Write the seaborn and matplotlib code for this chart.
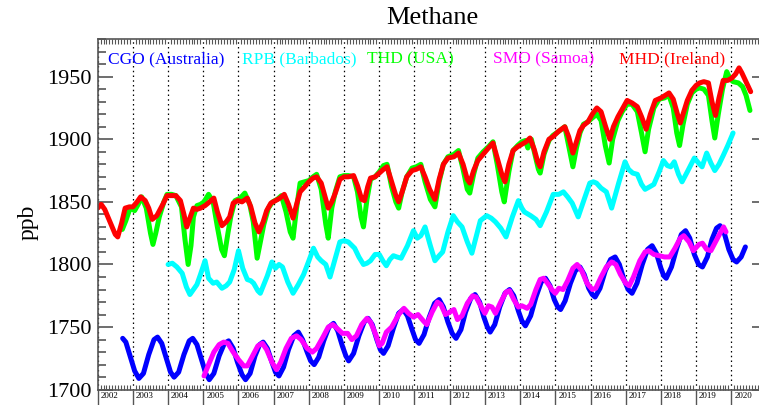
import matplotlib
matplotlib.use("Agg")
import matplotlib.pyplot as plt
from matplotlib.ticker import MultipleLocator, FixedLocator
from matplotlib.transforms import ScaledTranslation
import seaborn as sns

# ---- CGO (Cape Grim, Australia) ----
cgo_year = [2002.71, 2002.80, 2002.92, 2003.05, 2003.17, 2003.30, 2003.45, 2003.60, 2003.70, 2003.82,
            2003.95, 2004.07, 2004.17, 2004.30, 2004.45, 2004.60, 2004.70, 2004.82, 2004.95, 2005.07,
            2005.17, 2005.30, 2005.45, 2005.60, 2005.72, 2005.85, 2005.97, 2006.10, 2006.20, 2006.33,
            2006.47, 2006.60, 2006.70, 2006.82, 2006.95, 2007.05, 2007.15, 2007.28, 2007.42, 2007.57,
            2007.70, 2007.82, 2007.95, 2008.05, 2008.15, 2008.28, 2008.42, 2008.57, 2008.70, 2008.82,
            2008.95, 2009.05, 2009.13, 2009.27, 2009.42, 2009.57, 2009.68, 2009.80, 2009.93, 2010.03,
            2010.12, 2010.25, 2010.40, 2010.55, 2010.68, 2010.80, 2010.93, 2011.03, 2011.13, 2011.27,
            2011.42, 2011.57, 2011.70, 2011.82, 2011.95, 2012.07, 2012.18, 2012.32, 2012.45, 2012.60,
            2012.72, 2012.85, 2012.97, 2013.07, 2013.15, 2013.28, 2013.42, 2013.57, 2013.70, 2013.82,
            2013.95, 2014.05, 2014.15, 2014.30, 2014.45, 2014.60, 2014.72, 2014.85, 2014.97, 2015.07,
            2015.15, 2015.28, 2015.43, 2015.57, 2015.70, 2015.82, 2015.95, 2016.05, 2016.13, 2016.27,
            2016.42, 2016.57, 2016.70, 2016.82, 2016.95, 2017.07, 2017.18, 2017.32, 2017.47, 2017.62,
            2017.75, 2017.87, 2018.00, 2018.08, 2018.15, 2018.30, 2018.45, 2018.58, 2018.70, 2018.82,
            2018.95, 2019.07, 2019.18, 2019.32, 2019.45, 2019.58, 2019.68, 2019.80, 2019.93, 2020.05,
            2020.15, 2020.28, 2020.40]
cgo_ppb = [1741, 1738, 1727, 1715, 1709, 1713, 1728, 1740, 1742, 1737,
           1725, 1714, 1710, 1714, 1728, 1739, 1741, 1736, 1724, 1713,
           1708, 1713, 1727, 1737, 1739, 1733, 1722, 1712, 1708, 1713,
           1727, 1736, 1738, 1733, 1722, 1714, 1711, 1718, 1732, 1743,
           1746, 1740, 1730, 1723, 1720, 1726, 1739, 1750, 1753, 1747,
           1735, 1727, 1723, 1729, 1743, 1754, 1757, 1752, 1740, 1732,
           1729, 1735, 1749, 1761, 1764, 1759, 1748, 1740, 1737, 1744,
           1758, 1769, 1772, 1766, 1754, 1745, 1741, 1748, 1762, 1773,
           1776, 1770, 1758, 1750, 1746, 1752, 1766, 1777, 1780, 1775,
           1763, 1755, 1751, 1759, 1774, 1786, 1789, 1783, 1772, 1766,
           1764, 1771, 1785, 1795, 1798, 1792, 1781, 1776, 1774, 1781,
           1795, 1804, 1806, 1800, 1788, 1780, 1777, 1785, 1800, 1812,
           1815, 1809, 1797, 1791, 1789, 1798, 1813, 1824, 1827, 1821,
           1808, 1800, 1798, 1806, 1820, 1829, 1831, 1825, 1812, 1804,
           1802, 1806, 1814]

# ---- RPB (Ragged Point, Barbados) ----
rpb_year = [2004.00, 2004.12, 2004.25, 2004.40, 2004.52, 2004.62, 2004.72, 2004.82, 2004.92, 2005.05,
            2005.15, 2005.28, 2005.38, 2005.53, 2005.65, 2005.75, 2005.88, 2006.00, 2006.12, 2006.25,
            2006.35, 2006.43, 2006.55, 2006.62, 2006.72, 2006.82, 2006.95, 2007.05, 2007.15, 2007.25,
            2007.40, 2007.55, 2007.70, 2007.85, 2008.00, 2008.13, 2008.25, 2008.35, 2008.48, 2008.60,
            2008.75, 2008.88, 2009.00, 2009.12, 2009.30, 2009.42, 2009.55, 2009.65, 2009.75, 2009.88,
            2010.00, 2010.10, 2010.20, 2010.30, 2010.40, 2010.50, 2010.62, 2010.80, 2010.97, 2011.08,
            2011.18, 2011.30, 2011.45, 2011.58, 2011.70, 2011.80, 2011.95, 2012.10, 2012.22, 2012.35,
            2012.50, 2012.63, 2012.75, 2012.87, 2013.05, 2013.18, 2013.30, 2013.45, 2013.60, 2013.78,
            2013.95, 2014.05, 2014.12, 2014.30, 2014.45, 2014.57, 2014.75, 2014.94, 2015.10, 2015.23,
            2015.35, 2015.48, 2015.65, 2015.82, 2015.98, 2016.08, 2016.17, 2016.30, 2016.45, 2016.60,
            2016.80, 2016.98, 2017.08, 2017.20, 2017.33, 2017.45, 2017.55, 2017.68, 2017.80, 2017.95,
            2018.07, 2018.18, 2018.28, 2018.38, 2018.50, 2018.60, 2018.75, 2018.95, 2019.07, 2019.17,
            2019.30, 2019.42, 2019.53, 2019.65, 2019.77, 2019.90, 2020.05]
rpb_ppb = [1800, 1801, 1798, 1793, 1782, 1776, 1780, 1784, 1792, 1803,
           1789, 1785, 1786, 1781, 1783, 1786, 1796, 1811, 1797, 1788,
           1787, 1785, 1779, 1777, 1784, 1791, 1802, 1797, 1800, 1798,
           1786, 1777, 1784, 1792, 1803, 1813, 1806, 1803, 1800, 1790,
           1805, 1818, 1819, 1818, 1813, 1806, 1800, 1801, 1803, 1808,
           1808, 1803, 1799, 1804, 1807, 1806, 1805, 1815, 1827, 1821,
           1823, 1830, 1815, 1803, 1807, 1810, 1826, 1839, 1834, 1830,
           1818, 1809, 1822, 1835, 1839, 1837, 1834, 1829, 1822, 1838,
           1851, 1845, 1842, 1839, 1836, 1831, 1842, 1856, 1856, 1858,
           1854, 1849, 1838, 1852, 1865, 1866, 1865, 1861, 1858, 1845,
           1865, 1882, 1876, 1873, 1872, 1864, 1860, 1862, 1864, 1874,
           1883, 1879, 1878, 1882, 1872, 1866, 1874, 1885, 1881, 1878,
           1889, 1881, 1875, 1880, 1887, 1895, 1905]

# ---- THD (Trinidad Head, USA) ----
thd_year = [2002.70, 2002.80, 2002.92, 2003.05, 2003.15, 2003.25, 2003.38, 2003.50, 2003.57, 2003.65,
            2003.75, 2003.88, 2003.97, 2004.10, 2004.22, 2004.38, 2004.48, 2004.57, 2004.65, 2004.72,
            2004.82, 2004.92, 2005.02, 2005.15, 2005.28, 2005.40, 2005.52, 2005.60, 2005.70, 2005.78,
            2005.90, 2006.05, 2006.18, 2006.32, 2006.42, 2006.53, 2006.62, 2006.72, 2006.85, 2006.97,
            2007.10, 2007.22, 2007.35, 2007.47, 2007.55, 2007.65, 2007.75, 2007.88, 2008.00, 2008.12,
            2008.22, 2008.35, 2008.48, 2008.55, 2008.65, 2008.75, 2008.88, 2009.00, 2009.12, 2009.27,
            2009.38, 2009.48, 2009.55, 2009.65, 2009.75, 2009.88, 2010.00, 2010.12, 2010.22, 2010.35,
            2010.47, 2010.55, 2010.65, 2010.78, 2010.93, 2011.05, 2011.18, 2011.30, 2011.45, 2011.58,
            2011.70, 2011.82, 2011.95, 2012.12, 2012.25, 2012.38, 2012.50, 2012.57, 2012.68, 2012.80,
            2012.95, 2013.10, 2013.23, 2013.35, 2013.48, 2013.55, 2013.68, 2013.80, 2013.93, 2014.05,
            2014.15, 2014.22, 2014.32, 2014.42, 2014.52, 2014.57, 2014.68, 2014.82, 2014.93, 2015.08,
            2015.27, 2015.40, 2015.50, 2015.60, 2015.70, 2015.80, 2015.93, 2016.05, 2016.18, 2016.30,
            2016.42, 2016.53, 2016.63, 2016.78, 2016.90, 2017.04, 2017.18, 2017.33, 2017.45, 2017.55,
            2017.65, 2017.80, 2017.95, 2018.10, 2018.23, 2018.35, 2018.45, 2018.53, 2018.63, 2018.75,
            2018.88, 2019.00, 2019.10, 2019.22, 2019.35, 2019.45, 2019.53, 2019.63, 2019.75, 2019.87,
            2019.97, 2020.05, 2020.20, 2020.32, 2020.42, 2020.53]
thd_ppb = [1828, 1835, 1845, 1843, 1848, 1854, 1845, 1825, 1816, 1825,
           1838, 1850, 1856, 1856, 1855, 1846, 1820, 1800, 1815, 1838,
           1847, 1848, 1850, 1856, 1850, 1830, 1812, 1807, 1825, 1838,
           1851, 1853, 1857, 1848, 1834, 1805, 1818, 1832, 1845, 1850,
           1852, 1855, 1842, 1826, 1821, 1845, 1865, 1866, 1867, 1870,
           1872, 1860, 1832, 1821, 1845, 1858, 1870, 1871, 1871, 1870,
           1858, 1838, 1830, 1852, 1868, 1870, 1874, 1879, 1880, 1862,
           1850, 1845, 1858, 1870, 1877, 1878, 1880, 1866, 1852, 1846,
           1866, 1880, 1886, 1888, 1891, 1876, 1860, 1857, 1872, 1885,
           1890, 1894, 1898, 1880, 1858, 1850, 1874, 1891, 1895, 1898,
           1899, 1893, 1900, 1888, 1876, 1873, 1888, 1899, 1903, 1906,
           1910, 1892, 1878, 1893, 1905, 1912, 1914, 1917, 1920, 1915,
           1895, 1881, 1900, 1915, 1922, 1928, 1928, 1922, 1905, 1890,
           1908, 1925, 1932, 1933, 1935, 1925, 1905, 1895, 1912, 1928,
           1937, 1940, 1941, 1940, 1935, 1915, 1901, 1920, 1940, 1954,
           1948, 1946, 1945, 1942, 1935, 1923]

# ---- SMO (Cape Matatula, Samoa) ----
smo_year = [2005.02, 2005.15, 2005.30, 2005.45, 2005.58, 2005.70, 2005.85, 2006.00, 2006.15, 2006.25,
            2006.40, 2006.55, 2006.68, 2006.80, 2006.95, 2007.08, 2007.20, 2007.35, 2007.50, 2007.65,
            2007.78, 2007.95, 2008.10, 2008.22, 2008.40, 2008.55, 2008.68, 2008.80, 2008.95, 2009.10,
            2009.22, 2009.35, 2009.50, 2009.65, 2009.75, 2009.90, 2010.00, 2010.08, 2010.20, 2010.35,
            2010.55, 2010.70, 2010.83, 2010.97, 2011.10, 2011.25, 2011.35, 2011.50, 2011.65, 2011.75,
            2011.88, 2012.00, 2012.12, 2012.22, 2012.35, 2012.50, 2012.65, 2012.75, 2012.90, 2013.00,
            2013.10, 2013.20, 2013.30, 2013.45, 2013.60, 2013.70, 2013.82, 2013.95, 2014.05, 2014.20,
            2014.30, 2014.45, 2014.57, 2014.67, 2014.78, 2014.90, 2015.00, 2015.10, 2015.22, 2015.35,
            2015.50, 2015.62, 2015.75, 2015.90, 2016.05, 2016.15, 2016.30, 2016.45, 2016.60, 2016.72,
            2016.85, 2017.00, 2017.10, 2017.22, 2017.40, 2017.55, 2017.65, 2017.80, 2017.95, 2018.10,
            2018.25, 2018.40, 2018.55, 2018.65, 2018.80, 2018.92, 2019.08, 2019.18, 2019.30, 2019.42,
            2019.55, 2019.70, 2019.78, 2019.85]
smo_ppb = [1711, 1720, 1730, 1736, 1738, 1737, 1730, 1724, 1719, 1719,
           1727, 1735, 1737, 1732, 1722, 1716, 1722, 1733, 1741, 1743,
           1740, 1733, 1730, 1733, 1742, 1750, 1752, 1749, 1745, 1745,
           1740, 1743, 1752, 1757, 1754, 1744, 1735, 1737, 1746, 1750,
           1760, 1765, 1761, 1758, 1760, 1755, 1752, 1762, 1770, 1768,
           1760, 1762, 1764, 1756, 1759, 1769, 1775, 1774, 1766, 1761,
           1767, 1766, 1761, 1770, 1778, 1779, 1772, 1766, 1767, 1765,
           1768, 1780, 1788, 1789, 1785, 1780, 1777, 1781, 1780, 1787,
           1797, 1800, 1795, 1785, 1780, 1781, 1790, 1798, 1802, 1800,
           1792, 1785, 1783, 1790, 1803, 1810, 1811, 1808, 1807, 1806,
           1806, 1813, 1821, 1823, 1818, 1811, 1816, 1817, 1812, 1811,
           1818, 1826, 1830, 1826]

# ---- MHD (Mace Head, Ireland) ----
mhd_year = [2002.00, 2002.10, 2002.20, 2002.35, 2002.50, 2002.57, 2002.68, 2002.78, 2002.90, 2003.00,
            2003.12, 2003.22, 2003.35, 2003.45, 2003.55, 2003.68, 2003.85, 2003.97, 2004.10, 2004.22,
            2004.35, 2004.45, 2004.53, 2004.62, 2004.72, 2004.82, 2004.92, 2005.05, 2005.18, 2005.30,
            2005.40, 2005.53, 2005.65, 2005.75, 2005.85, 2005.98, 2006.10, 2006.25, 2006.35, 2006.47,
            2006.58, 2006.70, 2006.80, 2006.92, 2007.05, 2007.18, 2007.30, 2007.42, 2007.55, 2007.65,
            2007.75, 2007.88, 2008.00, 2008.12, 2008.22, 2008.35, 2008.45, 2008.55, 2008.65, 2008.75,
            2008.88, 2009.00, 2009.12, 2009.27, 2009.38, 2009.50, 2009.58, 2009.67, 2009.75, 2009.88,
            2010.00, 2010.12, 2010.22, 2010.35, 2010.47, 2010.55, 2010.65, 2010.78, 2010.93, 2011.05,
            2011.18, 2011.30, 2011.43, 2011.58, 2011.70, 2011.82, 2011.95, 2012.12, 2012.25, 2012.38,
            2012.50, 2012.57, 2012.68, 2012.80, 2012.95, 2013.10, 2013.23, 2013.35, 2013.48, 2013.57,
            2013.68, 2013.80, 2013.93, 2014.05, 2014.17, 2014.28, 2014.40, 2014.50, 2014.57, 2014.68,
            2014.82, 2014.93, 2015.08, 2015.27, 2015.38, 2015.50, 2015.60, 2015.70, 2015.80, 2015.93,
            2016.05, 2016.18, 2016.30, 2016.43, 2016.55, 2016.65, 2016.78, 2016.90, 2017.04, 2017.18,
            2017.33, 2017.45, 2017.58, 2017.70, 2017.84, 2018.00, 2018.12, 2018.23, 2018.35, 2018.47,
            2018.55, 2018.65, 2018.75, 2018.88, 2019.00, 2019.10, 2019.22, 2019.35, 2019.45, 2019.55,
            2019.65, 2019.77, 2019.90, 2020.02, 2020.12, 2020.22, 2020.30, 2020.40, 2020.48, 2020.55]
mhd_ppb = [1845, 1848, 1844, 1834, 1824, 1822, 1833, 1845, 1846, 1846,
           1850, 1854, 1851, 1845, 1836, 1839, 1848, 1855, 1855, 1855,
           1851, 1840, 1830, 1837, 1845, 1844, 1845, 1847, 1850, 1853,
           1842, 1831, 1834, 1838, 1849, 1851, 1850, 1853, 1846, 1833,
           1826, 1834, 1843, 1849, 1851, 1853, 1856, 1848, 1837, 1848,
           1858, 1862, 1866, 1869, 1870, 1865, 1855, 1845, 1850, 1857,
           1868, 1870, 1870, 1871, 1863, 1852, 1851, 1862, 1869, 1870,
           1873, 1876, 1878, 1866, 1855, 1850, 1858, 1870, 1875, 1876,
           1878, 1870, 1860, 1852, 1868, 1880, 1885, 1886, 1889, 1880,
           1868, 1865, 1875, 1883, 1888, 1893, 1897, 1885, 1872, 1866,
           1880, 1891, 1894, 1896, 1898, 1901, 1892, 1882, 1878, 1890,
           1900, 1902, 1906, 1910, 1902, 1889, 1898, 1907, 1911, 1914,
           1920, 1925, 1922, 1910, 1900, 1910, 1918, 1924, 1931, 1929,
           1926, 1918, 1908, 1920, 1931, 1933, 1935, 1937, 1932, 1920,
           1913, 1922, 1931, 1939, 1943, 1945, 1946, 1945, 1930, 1919,
           1933, 1947, 1947, 1949, 1952, 1957, 1953, 1947, 1942, 1938]

station_labels = ["CGO (Australia)", "RPB (Barbados)", "THD (USA)", "SMO (Samoa)", "MHD (Ireland)"]
station_colors = ["#0000ff", "#00ffff", "#00ff00", "#ff00ff", "#ff0000"]
year_ticks = list(range(2002, 2021))
ppb_ticks = [1700, 1750, 1800, 1850, 1900, 1950]

sns.set_theme(style="white")
plt.rcParams["font.family"] = ["Liberation Serif", "DejaVu Serif"]

fig = plt.figure(figsize=(7.59, 4.05), dpi=100)
# the plotting box runs slightly past the right edge of the canvas
ax = fig.add_axes([0.1287, 0.0378, 0.8812, 0.8657])

series = [(cgo_year, cgo_ppb), (rpb_year, rpb_ppb), (thd_year, thd_ppb),
          (smo_year, smo_ppb), (mhd_year, mhd_ppb)]
for (yr, val), col in zip(series, station_colors):
    sns.lineplot(x=yr, y=val, ax=ax, color=col, linewidth=3.6,
                 estimator=None, sort=False, legend=False)

ax.set_xlim(2002, 2021)
ax.set_ylim(1700, 1980)
ax.set_xlabel("")
ax.set_ylabel("")

# axis frame
for side in ("left", "top", "bottom", "right"):
    ax.spines[side].set_color("#555555")
    ax.spines[side].set_linewidth(1.2)

# y ticks: majors every 50 ppb, minors every 10 ppb
ax.yaxis.set_major_locator(FixedLocator(ppb_ticks))
ax.yaxis.set_minor_locator(MultipleLocator(10))
ax.set_yticklabels([str(v) for v in ppb_ticks])
ax.tick_params(axis="y", which="major", direction="in", left=True, right=True,
               length=10.8, width=1.2, color="#555555", labelsize=16, pad=4.5,
               labelcolor="black")
ax.tick_params(axis="y", which="minor", direction="in", left=True, right=False,
               length=5.8, width=1.2, color="#555555")

# x ticks: years (outward, labelled) and months (inward)
ax.xaxis.set_major_locator(FixedLocator(year_ticks))
ax.xaxis.set_minor_locator(MultipleLocator(1 / 12))
ax.set_xticklabels([str(y) for y in year_ticks])
ax.tick_params(axis="x", which="major", direction="out", bottom=True, top=False,
               length=12, width=1.0, color="#555555", labelsize=6.5, pad=-10.5,
               labelcolor="black")
ax.tick_params(axis="x", which="minor", direction="in", bottom=True, top=True,
               length=3.8, width=0.8, color="#555555")
shift = ScaledTranslation(3 / 100, 0, fig.dpi_scale_trans)
for lbl in ax.get_xticklabels():
    lbl.set_horizontalalignment("left")
    lbl.set_verticalalignment("top")
    lbl.set_transform(lbl.get_transform() + shift)

# dotted year grid
ax.grid(False)
ax.xaxis.grid(True, which="major", color="black", linestyle=(0, (1.2, 2.6)), linewidth=0.9)

# title, axis label and coloured station key
fig.text(432 / 759, 1 - 18 / 405, "Methane", ha="center", va="center", fontsize=19, color="black")
fig.text(28 / 759, 1 - 222 / 405, "ppb", ha="center", va="center", rotation=90, fontsize=17, color="black")
key_x = [108, 242, 367, 493, 619]
for x, lab, col in zip(key_x, station_labels, station_colors):
    fig.text(x / 759, 1 - 59 / 405, lab, ha="left", va="center", fontsize=12.5, color=col)

fig.savefig("out.png", dpi=100)
